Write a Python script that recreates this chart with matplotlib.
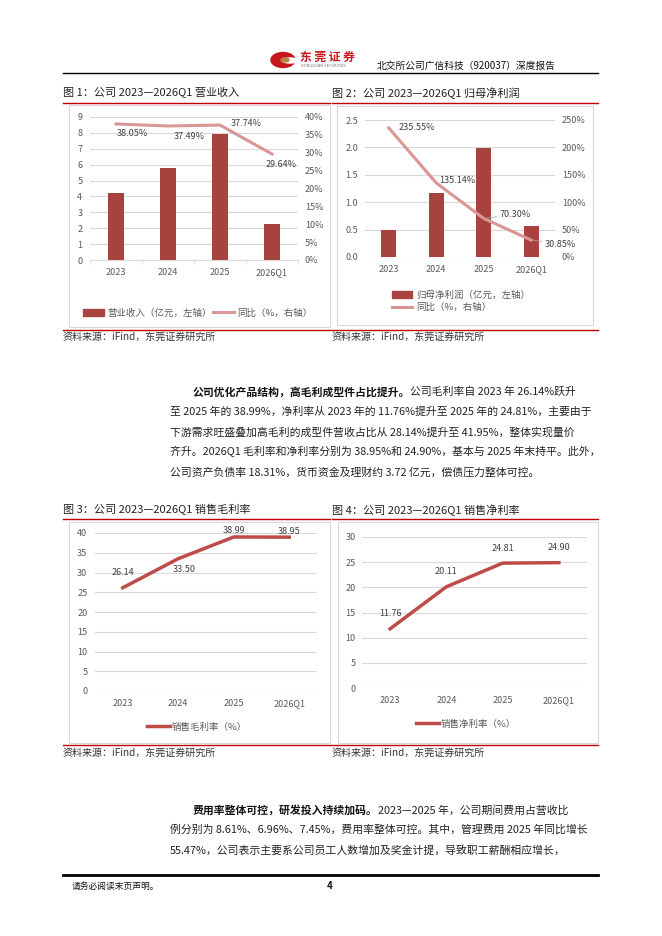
import numpy as np
import matplotlib.pyplot as plt
from matplotlib.patches import Rectangle, Ellipse, Patch
from matplotlib.lines import Line2D

plt.rcParams['font.family'] = ['Noto Sans CJK SC', 'DejaVu Sans']

W, H = 662, 936

years = ['2023', '2024', '2025', '2026Q1']
revenue = [4.20, 5.78, 7.95, 2.27]
revenue_yoy = [38.05, 37.49, 37.74, 29.64]
profit = [0.50, 1.17, 1.98, 0.57]
profit_yoy = [235.55, 135.14, 70.30, 30.85]
gross_margin = [26.14, 33.50, 38.99, 38.95]
net_margin = [11.76, 20.11, 24.81, 24.90]

para1 = [
    ('公司优化产品结构，高毛利成型件占比提升。', '公司毛利率自 2023 年 26.14%跃升'),
    ('', '至 2025 年的 38.99%，净利率从 2023 年的 11.76%提升至 2025 年的 24.81%，主要由于'),
    ('', '下游需求旺盛叠加高毛利的成型件营收占比从 28.14%提升至 41.95%，整体实现量价'),
    ('', '齐升。2026Q1 毛利率和净利率分别为 38.95%和 24.90%，基本与 2025 年末持平。此外，'),
    ('', '公司资产负债率 18.31%，货币资金及理财约 3.72 亿元，偿债压力整体可控。'),
]
para2 = [
    ('费用率整体可控，研发投入持续加码。', '2023—2025 年，公司期间费用占营收比'),
    ('', '例分别为 8.61%、6.96%、7.45%，费用率整体可控。其中，管理费用 2025 年同比增长'),
    ('', '55.47%，公司表示主要系公司员工人数增加及奖金计提，导致职工薪酬相应增长，'),
]

BAR = '#A8423F'
PINK = '#D99694'
LINE = '#BE4B48'
RED = '#C00000'
GRID = '#D9D9D9'
TXT = '#595959'

fig = plt.figure(figsize=(W / 100, H / 100), dpi=100)
renderer = fig.canvas.get_renderer()


def px_axes(x0, y0, x1, y1):
    return fig.add_axes([x0 / W, 1 - y1 / H, (x1 - x0) / W, (y1 - y0) / H])


def ftext(x, y, s, **kw):
    return fig.text(x / W, 1 - y / H, s, **kw)


def hline(x0, x1, y, color, lw):
    fig.add_artist(Line2D([x0 / W, x1 / W], [1 - y / H, 1 - y / H], color=color, lw=lw))


def box(x0, y0, x1, y1):
    fig.add_artist(Rectangle((x0 / W, 1 - y1 / H), (x1 - x0) / W, (y1 - y0) / H,
                             fill=False, ec='#D9D9D9', lw=0.8, transform=fig.transFigure))


def style(ax, ymax, step, fmt, pad):
    ax.set_xlim(-0.5, 3.5)
    ax.set_ylim(0, ymax)
    ax.set_yticks(np.arange(0, ymax + step / 2, step))
    ax.set_yticklabels([fmt.format(v) for v in np.arange(0, ymax + step / 2, step)])
    ax.set_xticks(range(4))
    ax.set_xticklabels(years)
    ax.grid(axis='y', color=GRID, lw=0.8)
    ax.set_axisbelow(True)
    for s in ax.spines.values():
        s.set_visible(False)
    ax.tick_params(axis='x', length=0, pad=6, labelsize=6.5, labelcolor=TXT)
    ax.tick_params(axis='y', length=0, pad=pad, labelsize=6.5, labelcolor=TXT)
    ax.patch.set_alpha(0)


def right_axis(ax, ymax, step):
    ax2 = ax.twinx()
    ax2.set_ylim(0, ymax)
    ticks = np.arange(0, ymax + step / 2, step)
    ax2.set_yticks(ticks)
    ax2.set_yticklabels([f'{int(v)}%' for v in ticks])
    for s in ax2.spines.values():
        s.set_visible(False)
    ax2.tick_params(axis='y', length=0, pad=5, labelsize=6.5, labelcolor=TXT)
    return ax2


def label(ax, x, y, s, dx, dy, leader=False):
    kw = {}
    if leader:
        kw['arrowprops'] = dict(arrowstyle='-', color='#A6A6A6', lw=0.6, shrinkA=0, shrinkB=2)
    ax.annotate(s, (x, y), xytext=(dx, dy), textcoords='offset pixels',
                ha='center', va='center', fontsize=6.5, color='#404040', **kw)


# header
fig.add_artist(Ellipse((283 / W, 1 - 60 / H), 24 / W, 15 / H, color='#C8161D', transform=fig.transFigure))
fig.add_artist(Ellipse((290 / W, 1 - 60.5 / H), 16 / W, 5 / H, color='white', transform=fig.transFigure))
fig.add_artist(Ellipse((285 / W, 1 - 60 / H), 8 / W, 4 / H, color='#B8864B', transform=fig.transFigure))
ftext(300, 57, '东 莞 证 券', fontsize=8.5, color='#C8161D', fontweight='bold', style='italic', va='center')
ftext(301, 66, 'DONGGUAN SECURITIES', fontsize=2.6, color='#777777', va='center', family='DejaVu Sans')
ftext(377, 66, '北交所公司广信科技（920037）深度报告', fontsize=7, color='#111111', va='center')
hline(63, 598, 73, 'black', 1.0)

# titles and frames, top row
ftext(63, 93, '图 1：公司 2023—2026Q1 营业收入', fontsize=8, color='#222222', va='center')
ftext(332, 93, '图 2：公司 2023—2026Q1 归母净利润', fontsize=8, color='#222222', va='center')
hline(63, 330, 103, RED, 1.0)
hline(332, 598, 103, RED, 1.0)
box(69, 105, 330, 327)
box(337, 106, 593, 325)
hline(63, 598, 329.5, RED, 1.0)
ftext(63, 337, '资料来源：iFind，东莞证券研究所', fontsize=7.2, color='#333333', va='center')
ftext(332, 337, '资料来源：iFind，东莞证券研究所', fontsize=7.2, color='#333333', va='center')

# chart 1
ax1 = px_axes(90, 117, 298, 260)
style(ax1, 9, 1, '{:.0f}', 5.5)
ax1.spines['bottom'].set_visible(True)
ax1.spines['bottom'].set_color(GRID)
ax1.set_xticks(np.arange(-0.5, 4, 1), minor=True)
ax1.tick_params(axis='x', which='minor', length=3, color=GRID)
ax1.bar(range(4), revenue, width=0.31, color=BAR, label='营业收入（亿元，左轴）')
ax1b = right_axis(ax1, 40, 5)
ax1b.plot(range(4), revenue_yoy, color=PINK, lw=2.2, label='同比（%，右轴）')
offs1 = [(16, -10), (21, -11), (26, 2), (9, -10)]
for i, v in enumerate(revenue_yoy):
    label(ax1b, i, v, f'{v:.2f}%', *offs1[i])
fig.legend([Patch(color=BAR), Line2D([], [], color=PINK, lw=2.2)],
           ['营业收入（亿元，左轴）', '同比（%，右轴）'],
           loc='center', bbox_to_anchor=(198 / W, 1 - 313 / H), ncol=2, frameon=False,
           fontsize=6.8, labelcolor=TXT, handlelength=2.2, handleheight=0.8,
           handletextpad=0.4, columnspacing=0.1)

# chart 2
ax2 = px_axes(365, 120, 555, 257)
style(ax2, 2.5, 0.5, '{:.1f}', 5)
ax2.bar(range(4), profit, width=0.31, color=BAR)
ax2b = right_axis(ax2, 250, 50)
ax2b.plot(range(4), profit_yoy, color=PINK, lw=2.2)
offs2 = [(28, 0), (21, 2), (31, 4), (29, -4)]
for i, v in enumerate(profit_yoy):
    label(ax2b, i, v, f'{v:.2f}%', *offs2[i], leader=i >= 2)
fig.legend([Patch(color=BAR), Line2D([], [], color=PINK, lw=2.2)],
           ['归母净利润（亿元，左轴）', '同比（%，右轴）'],
           loc='center left', bbox_to_anchor=(383 / W, 1 - 301 / H), ncol=1, frameon=False,
           fontsize=6.8, labelcolor=TXT, handlelength=2.2, handleheight=0.8,
           handletextpad=0.4, labelspacing=0.35)

# paragraph 1


def paragraph(lines, y0, step):
    for k, (bold, rest) in enumerate(lines):
        y = y0 + k * step
        x = 193 if k == 0 else 170
        if bold:
            t = ftext(x, y, bold, fontsize=7.8, fontweight='bold', color='#111111', va='center')
            x = t.get_window_extent(renderer=renderer).x1
        ftext(x, y, rest, fontsize=7.8, color='#222222', va='center')


paragraph(para1, 392, 20)

# titles and frames, bottom row
ftext(63, 510, '图 3：公司 2023—2026Q1 销售毛利率', fontsize=8, color='#222222', va='center')
ftext(332, 510, '图 4：公司 2023—2026Q1 销售净利率', fontsize=8, color='#222222', va='center')
hline(63, 330, 519, RED, 1.0)
hline(332, 598, 519, RED, 1.0)
box(69, 522, 330, 743)
box(338, 522, 598, 743)
hline(63, 598, 745, RED, 1.0)
ftext(63, 753, '资料来源：iFind，东莞证券研究所', fontsize=7.2, color='#333333', va='center')
ftext(332, 753, '资料来源：iFind，东莞证券研究所', fontsize=7.2, color='#333333', va='center')

# chart 3
ax3 = px_axes(95, 533, 317, 691)
style(ax3, 40, 5, '{:.0f}', 5.5)
ax3.plot(range(4), gross_margin, color=LINE, lw=2.5)
offs3 = [(0, 15), (6, -11), (0, 6), (0, 6)]
for i, v in enumerate(gross_margin):
    label(ax3, i, v, f'{v:.2f}', *offs3[i])
fig.legend([Line2D([], [], color=LINE, lw=2.5)], ['销售毛利率（%）'],
           loc='center', bbox_to_anchor=(197 / W, 1 - 727 / H), frameon=False,
           fontsize=6.8, labelcolor=TXT, handlelength=2.4, handletextpad=0.2)

# chart 4
ax4 = px_axes(362, 537, 587, 688)
style(ax4, 30, 5, '{:.0f}', 4.5)
ax4.plot(range(4), net_margin, color=LINE, lw=2.5)
for i, v in enumerate(net_margin):
    label(ax4, i, v, f'{v:.2f}', 0, 15)
fig.legend([Line2D([], [], color=LINE, lw=2.5)], ['销售净利率（%）'],
           loc='center', bbox_to_anchor=(466 / W, 1 - 724 / H), frameon=False,
           fontsize=6.8, labelcolor=TXT, handlelength=2.4, handletextpad=0.2)

# paragraph 2
paragraph(para2, 810, 20)

# footer
hline(63, 598, 875, 'black', 2.0)
ftext(72, 886, '请务必阅读末页声明。', fontsize=6.3, color='#111111', va='center')
ftext(330, 886, '4', fontsize=7, color='#111111', fontweight='bold', va='center', ha='center')

fig.savefig('out.png', dpi=100)
